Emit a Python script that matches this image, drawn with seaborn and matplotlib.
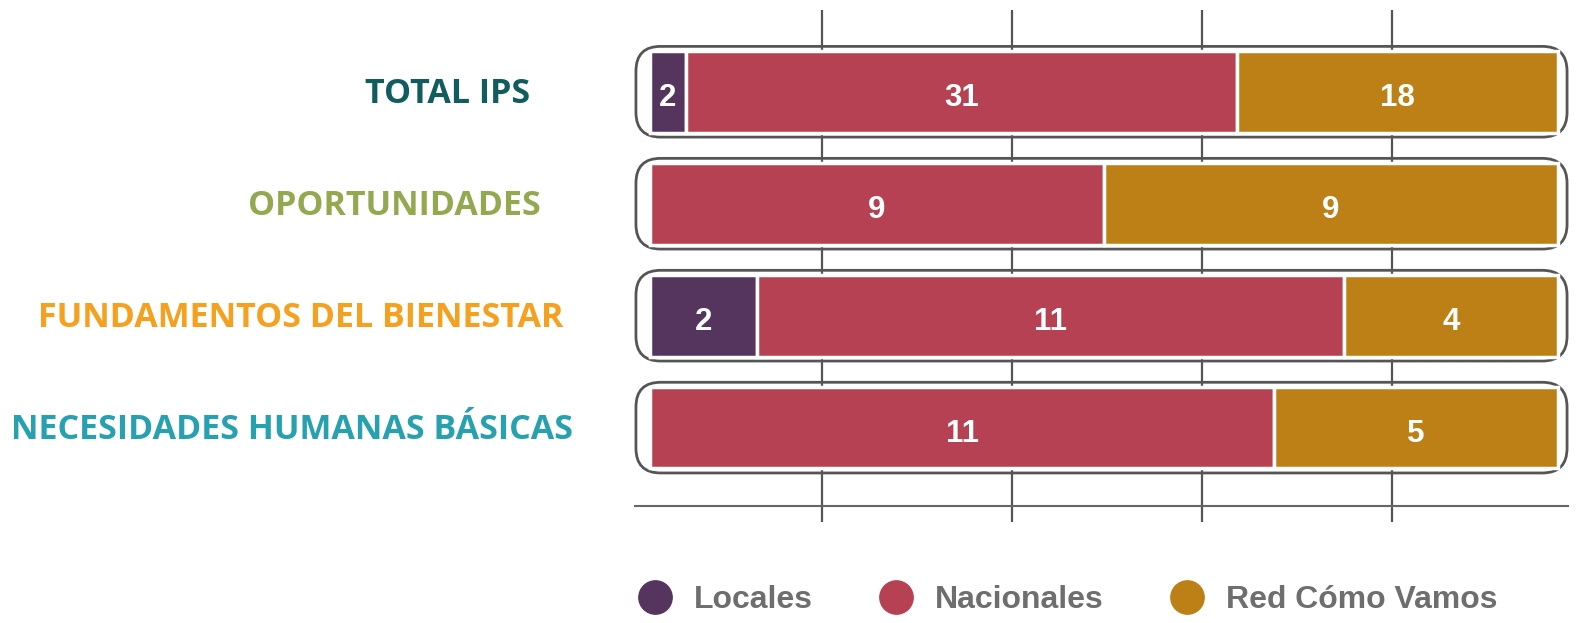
import numpy as np
import seaborn as sns
import matplotlib.pyplot as plt
from matplotlib.patches import FancyBboxPatch
from matplotlib.lines import Line2D

# datos
categorias = ["TOTAL IPS", "OPORTUNIDADES", "FUNDAMENTOS DEL BIENESTAR",
              "NECESIDADES HUMANAS BÁSICAS"]
series = ["Locales", "Nacionales", "Red Cómo Vamos"]
locales = [2, 0, 2, 0]
nacionales = [31, 9, 11, 11]
red_como_vamos = [18, 9, 4, 5]

colores_series = ["#55355e", "#b64153", "#bd8016"]
colores_cat = ["#115c5f", "#94a84f", "#f5a01e", "#27a0b0"]
# borde derecho de cada etiqueta (px de figura)
etiqueta_x = [530, 541, 563, 573]

sns.set_theme(style="white")

W, H = 1579, 623
fig = plt.figure(figsize=(W / 100, H / 100), dpi=100)
ax = fig.add_axes([635 / W, 1 - 506 / H, (1568 - 635) / W, (506 - 10) / H])

valores = np.array([locales, nacionales, red_como_vamos], dtype=float)
fracs = valores / valores.sum(axis=0)
inicio, ancho = 0.019, 0.955
y = np.arange(len(categorias))

izq = np.zeros(len(categorias))
for k, nombre in enumerate(series):
    w = fracs[k] * ancho
    ax.barh(y, w, left=inicio + izq * ancho, height=0.73, color=colores_series[k],
            edgecolor="white", linewidth=2.5, zorder=3)
    for i in range(len(categorias)):
        if valores[k, i] > 0:
            cx = inicio + (izq[i] + fracs[k, i] / 2) * ancho
            ax.text(cx, y[i] + 0.06, f"{int(valores[k, i])}", ha="center", va="center",
                    color="white", fontsize=22.5, fontweight="bold",
                    family="Liberation Sans", zorder=4)
    izq += fracs[k]

# marcos redondeados
for i in range(len(categorias)):
    marco = FancyBboxPatch((0.004, y[i] - 0.405), 0.98, 0.81,
                           boxstyle="round,pad=0,rounding_size=0.026",
                           mutation_aspect=8.5, facecolor="none",
                           edgecolor="#555555", linewidth=2.0, zorder=0.3,
                           clip_on=False)
    ax.add_patch(marco)

ax.set_xlim(0.003, 0.985)
ax.set_ylim(3.70, -0.73)
ax.set_xticks([0.2, 0.4, 0.6, 0.8])
ax.set_xticklabels([])
ax.set_yticks([])
ax.grid(axis="x", color="#555555", linewidth=1.6)
ax.set_axisbelow(True)
ax.tick_params(axis="x", bottom=True, direction="out", length=11.5, width=1.6,
               color="#555555")
for s in ["top", "left", "right"]:
    ax.spines[s].set_visible(False)
ax.spines["bottom"].set_color("#666666")
ax.spines["bottom"].set_linewidth(1.5)

# etiquetas de categoria
for i, cat in enumerate(categorias):
    yc = 94 + 112 * i
    fig.text(etiqueta_x[i] / W, 1 - yc / H, cat, ha="right", va="center",
             color=colores_cat[i], fontsize=24.5, fontweight="bold",
             family="Open Sans")

# leyenda
handles = [Line2D([], [], marker="o", linestyle="none", markersize=24,
                  markerfacecolor=c, markeredgecolor=c) for c in colores_series]
leg = fig.legend(handles, series, loc="center left",
                 bbox_to_anchor=(639 / W, 1 - 600 / H), ncol=3, frameon=False,
                 handlelength=1.0, handletextpad=0.72, columnspacing=2.1,
                 borderpad=0, borderaxespad=0,
                 prop={"family": "Liberation Sans", "weight": "bold", "size": 23})
for t in leg.get_texts():
    t.set_color("#6e6e6e")

fig.savefig("out.png", dpi=100)
